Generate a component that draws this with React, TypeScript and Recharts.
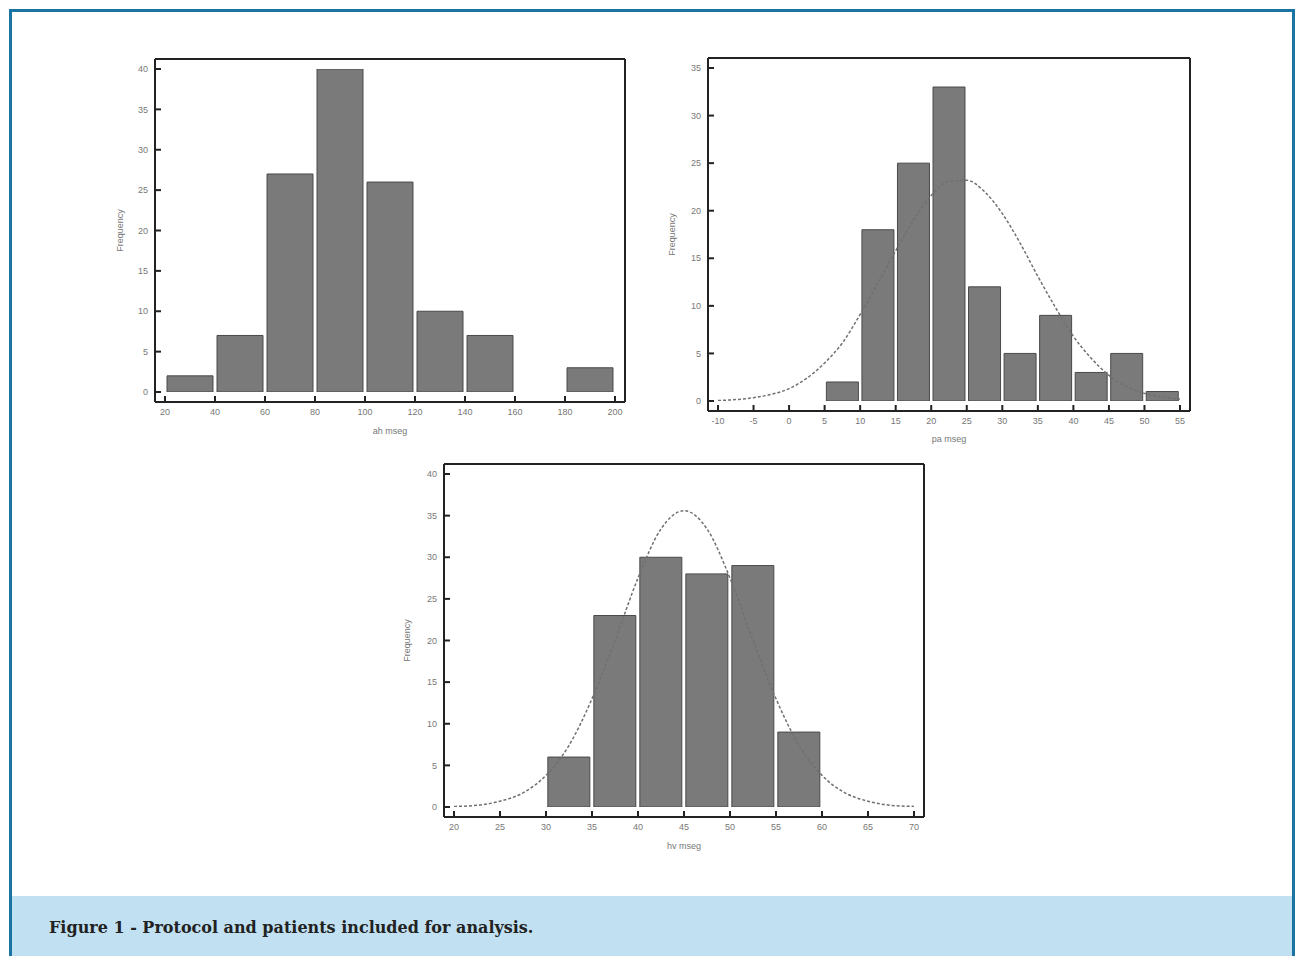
import React from 'react';
import { ComposedChart, Bar, Line, XAxis, YAxis } from 'recharts';

// ah mseg histogram
const AH_BINS = ['20-40', '40-60', '60-80', '80-100', '100-120', '120-140', '140-160', '160-180', '180-200'];
const AH_COUNTS = [2, 7, 27, 40, 26, 10, 7, 0, 3];
const AH_X_TICKS = [20, 40, 60, 80, 100, 120, 140, 160, 180, 200];
const AH_Y_TICKS = [0, 5, 10, 15, 20, 25, 30, 35, 40];

// pa mseg histogram + fitted curve
const PA_BINS = ['-10--5', '-5-0', '0-5', '5-10', '10-15', '15-20', '20-25', '25-30', '30-35', '35-40', '40-45', '45-50', '50-55'];
const PA_COUNTS = [0, 0, 0, 2, 18, 25, 33, 12, 5, 9, 3, 5, 1];
const PA_X_TICKS = [-10, -5, 0, 5, 10, 15, 20, 25, 30, 35, 40, 45, 50, 55];
const PA_Y_TICKS = [0, 5, 10, 15, 20, 25, 30, 35];
const PA_CURVE_X = [-10, -7.5, -5, -2.5, 0, 2.5, 5, 7.5, 10, 12.5, 15, 17.5, 20, 22.5, 25, 27.5, 30, 32.5, 35, 37.5, 40, 42.5, 45, 47.5, 50, 52.5, 55];
const PA_CURVE_Y = [0.05, 0.15, 0.35, 0.7, 1.3, 2.4, 4.0, 6.1, 9.1, 12.4, 15.8, 19.0, 21.6, 23.1, 23.2, 22.0, 19.7, 16.6, 13.1, 9.8, 6.8, 4.5, 2.7, 1.5, 0.8, 0.4, 0.2];

// hv mseg histogram + fitted curve
const HV_BINS = ['20-25', '25-30', '30-35', '35-40', '40-45', '45-50', '50-55', '55-60', '60-65', '65-70'];
const HV_COUNTS = [0, 0, 6, 23, 30, 28, 29, 9, 0, 0];
const HV_X_TICKS = [20, 25, 30, 35, 40, 45, 50, 55, 60, 65, 70];
const HV_Y_TICKS = [0, 5, 10, 15, 20, 25, 30, 35, 40];
const HV_CURVE_X = [20, 22.5, 25, 27.5, 30, 32.5, 35, 37.5, 40, 42.5, 45, 47.5, 50, 52.5, 55, 57.5, 60, 62.5, 65, 67.5, 70];
const HV_CURVE_Y = [0.07, 0.2, 0.7, 1.7, 3.8, 7.4, 13.0, 20.0, 27.5, 33.4, 35.6, 33.4, 27.5, 20.0, 13.0, 7.4, 3.8, 1.7, 0.7, 0.2, 0.07];

const FRAME = '#222';
const TEXT = '#777';
const FONT = '"Liberation Sans", Arial, sans-serif';
const PAD = 10;

const XTick = (props: any) => {
  const { x, y, payload } = props;
  const base = y - 7;
  return (
    <g>
      <line x1={x} x2={x} y1={base} y2={base - 6} stroke={FRAME} strokeWidth={2} />
      <text x={x} y={y} dy="0.71em" textAnchor="middle" fontSize={9} fill={TEXT} fontFamily={FONT}>
        {payload.value}
      </text>
    </g>
  );
};

const YTick = (props: any) => {
  const { x, y, payload } = props;
  const base = x + 7;
  return (
    <g>
      <line x1={base} x2={base + 6} y1={y} y2={y} stroke={FRAME} strokeWidth={2} />
      <text x={x} y={y} dy="0.35em" textAnchor="end" fontSize={9} fill={TEXT} fontFamily={FONT}>
        {payload.value}
      </text>
    </g>
  );
};

interface HistProps {
  left: number;
  top: number;
  width: number;
  height: number;
  margin: { top: number; right: number; bottom: number; left: number };
  yWidth: number;
  bins: string[];
  counts: number[];
  xTicks: number[];
  yTicks: number[];
  xLabel: string;
  xLabelOffset: number;
  freqOffset: number;
  gap: string;
  curveX?: number[];
  curveY?: number[];
}

function Histogram(p: HistProps) {
  const data = p.bins.map((bin, i) => ({ bin, count: p.counts[i] }));
  const curve = p.curveX ? p.curveX.map((x, i) => ({ x, y: p.curveY![i] })) : [];
  const xDomain = [p.xTicks[0], p.xTicks[p.xTicks.length - 1]];
  const yDomain = [p.yTicks[0], p.yTicks[p.yTicks.length - 1]];
  return (
    <div style={{ position: 'absolute', left: p.left, top: p.top }}>
      <ComposedChart width={p.width} height={p.height} data={data} margin={p.margin} barCategoryGap={p.gap}>
        <XAxis xAxisId="bins" dataKey="bin" type="category" hide height={0} padding={{ left: PAD, right: PAD }} />
        <XAxis
          xAxisId="num"
          dataKey="x"
          type="number"
          domain={xDomain}
          ticks={p.xTicks}
          allowDataOverflow
          padding={{ left: PAD, right: PAD }}
          height={36}
          tickLine={false}
          tickSize={0}
          tickMargin={7}
          tick={<XTick />}
          interval={0}
          axisLine={{ stroke: FRAME, strokeWidth: 2 }}
          label={{ value: p.xLabel, position: 'insideBottom', offset: p.xLabelOffset, fontSize: 9, fill: TEXT, fontFamily: FONT }}
        />
        <XAxis xAxisId="top" orientation="top" type="number" domain={[0, 1]} height={1} tick={false} tickLine={false} axisLine={{ stroke: FRAME, strokeWidth: 2 }} />
        <YAxis
          yAxisId="y"
          type="number"
          domain={yDomain}
          ticks={p.yTicks}
          allowDataOverflow
          padding={{ top: PAD, bottom: PAD }}
          width={p.yWidth}
          tickLine={false}
          tickSize={0}
          tickMargin={7}
          tick={<YTick />}
          interval={0}
          axisLine={{ stroke: FRAME, strokeWidth: 2 }}
          label={{ value: 'Frequency', angle: -90, position: 'insideLeft', offset: p.freqOffset, fontSize: 9, fill: TEXT, fontFamily: FONT, style: { textAnchor: 'middle' } }}
        />
        <YAxis yAxisId="right" orientation="right" type="number" domain={[0, 1]} width={1} tick={false} tickLine={false} axisLine={{ stroke: FRAME, strokeWidth: 2 }} />
        <Bar xAxisId="bins" yAxisId="y" dataKey="count" fill="#7a7a7a" stroke="#4a4a4a" strokeWidth={1} isAnimationActive={false} />
        {p.curveX && (
          <Line
            xAxisId="num"
            yAxisId="y"
            data={curve}
            dataKey="y"
            type="monotone"
            dot={false}
            stroke="#707070"
            strokeWidth={1.5}
            strokeDasharray="3 2"
            isAnimationActive={false}
          />
        )}
      </ComposedChart>
    </div>
  );
}

export default function App() {
  return (
    <div style={{ position: 'absolute', left: 0, top: 0, width: 1297, height: 956, overflow: 'hidden', background: '#fff' }}>
      <div
        style={{
          position: 'absolute',
          left: 9,
          top: 9,
          width: 1280,
          height: 960,
          border: '3px solid #1a74a2',
          borderBottom: 'none',
        }}
      />
      <Histogram
        left={100}
        top={40}
        width={540}
        height={410}
        margin={{ top: 18, right: 14, bottom: 12, left: 0 }}
        yWidth={55}
        bins={AH_BINS}
        counts={AH_COUNTS}
        xTicks={AH_X_TICKS}
        yTicks={AH_Y_TICKS}
        xLabel="ah mseg"
        xLabelOffset={4}
        freqOffset={20}
        gap="4%"
      />
      <Histogram
        left={650}
        top={40}
        width={560}
        height={420}
        margin={{ top: 17, right: 19, bottom: 13, left: 0 }}
        yWidth={58}
        bins={PA_BINS}
        counts={PA_COUNTS}
        xTicks={PA_X_TICKS}
        yTicks={PA_Y_TICKS}
        xLabel="pa mseg"
        xLabelOffset={5}
        freqOffset={22}
        gap="5%"
        curveX={PA_CURVE_X}
        curveY={PA_CURVE_Y}
      />
      <Histogram
        left={390}
        top={450}
        width={550}
        height={410}
        margin={{ top: 13, right: 15, bottom: 7, left: 0 }}
        yWidth={54}
        bins={HV_BINS}
        counts={HV_COUNTS}
        xTicks={HV_X_TICKS}
        yTicks={HV_Y_TICKS}
        xLabel="hv mseg"
        xLabelOffset={4}
        freqOffset={17}
        gap="4%"
        curveX={HV_CURVE_X}
        curveY={HV_CURVE_Y}
      />
      <div
        style={{
          position: 'absolute',
          left: 12,
          top: 896,
          width: 1280,
          height: 60,
          background: '#c1e1f2',
          boxSizing: 'border-box',
          paddingLeft: 37,
          paddingTop: 21,
          fontFamily: '"DejaVu Serif", "Liberation Serif", serif',
          fontWeight: 'bold',
          fontSize: 16,
          lineHeight: '22px',
          color: '#222',
        }}
      >
        Figure 1 - Protocol and patients included for analysis.
      </div>
    </div>
  );
}
